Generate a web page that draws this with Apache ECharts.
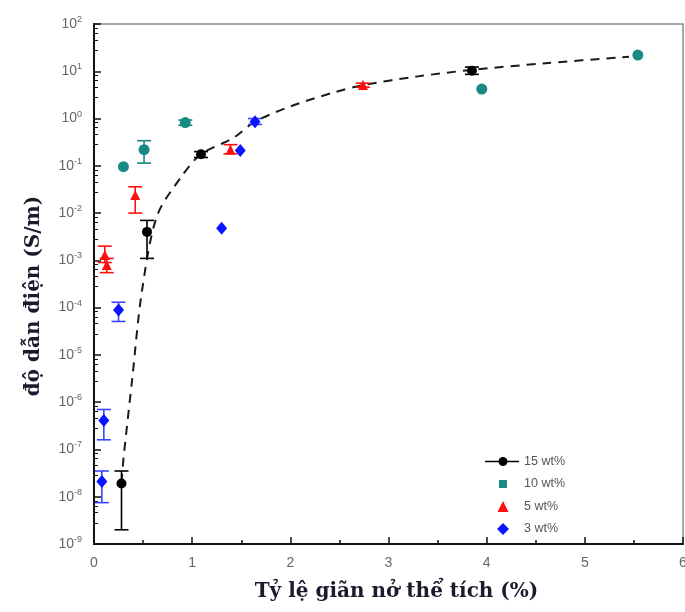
<!DOCTYPE html>
<html>
<head>
<meta charset="utf-8">
<script src="https://cdn.jsdelivr.net/npm/echarts@6/dist/echarts.min.js"></script>
<style>
  html, body { margin: 0; padding: 0; background: #fff; overflow: hidden; }
  #chart { width: 685px; height: 612px; }
</style>
</head>
<body>
<div id="chart"></div>
<script>
// 15 wt% (black circles, error bars)
const blackX = [0.28, 0.54, 1.09, 3.85]
const blackY = [1.9e-8, 4.0e-3, 0.175, 10.3]
const blackLo = [2.0e-9, 1.1e-3, 0.15, 8.6]
const blackHi = [3.5e-8, 7.0e-3, 0.20, 12.3]

// 10 wt% (teal)
const tealX = [0.30, 0.51, 0.93, 3.95, 5.54]
const tealY = [0.096, 0.22, 0.82, 4.2, 22]
const tealLo = [null, 0.114, 0.72, null, null]
const tealHi = [null, 0.34, 0.93, null, null]

// 5 wt% (red triangles)
const redX = [0.11, 0.13, 0.42, 1.39, 2.74]
const redY = [1.3e-3, 8.0e-4, 0.024, 0.22, 5.1]
const redLo = [9.0e-4, 5.5e-4, 0.010, 0.18, 4.6]
const redHi = [2.0e-3, 1.1e-3, 0.036, 0.28, 5.6]

// 3 wt% (blue diamonds)
const blueX = [0.08, 0.10, 0.25, 1.30, 1.49, 1.64]
const blueY = [2.1e-8, 4.1e-7, 8.9e-5, 4.8e-3, 0.21, 0.86]
const blueLo = [7.5e-9, 1.6e-7, 5.1e-5, null, null, 0.75]
const blueHi = [3.5e-8, 7.0e-7, 1.3e-4, null, null, 1.0]

// dashed guide curve
const fitX = [0.28, 0.30, 0.39, 0.485, 0.64, 0.89, 1.09, 1.42, 1.64, 2.0, 2.43, 2.74, 3.3, 3.85, 4.6, 5.45]
const fitY = [2.0e-8, 6.3e-8, 3.2e-6, 2.0e-4, 8.5e-3, 0.059, 0.176, 0.39, 0.86, 1.8, 3.5, 5.1, 7.8, 10.7, 14.8, 20.4]

function pairs(xs, ys) {
  return xs.map((x, i) => [x, ys[i]])
}
function errData(xs, lo, hi) {
  let out = []
  xs.forEach((x, i) => {
    if (lo[i] != null) out.push([x, lo[i], hi[i]])
  })
  return out
}
// error bar drawn through the axis scales
function errorBar(color) {
  return function (params, api) {
    const x = api.value(0)
    const top = api.coord([x, api.value(2)])
    const bot = api.coord([x, api.value(1)])
    const hw = 7
    const st = { stroke: color, lineWidth: 1.6 }
    return {
      type: 'group',
      children: [
        { type: 'line', shape: { x1: top[0], y1: top[1], x2: bot[0], y2: bot[1] }, style: st },
        { type: 'line', shape: { x1: top[0] - hw, y1: top[1], x2: top[0] + hw, y2: top[1] }, style: st },
        { type: 'line', shape: { x1: bot[0] - hw, y1: bot[1], x2: bot[0] + hw, y2: bot[1] }, style: st }
      ]
    }
  }
}
function errSeries(name, color, data) {
  return {
    name: name + ' err',
    type: 'custom',
    renderItem: errorBar(color),
    encode: { x: 0, y: [1, 2] },
    data: data,
    z: 3,
    silent: true
  }
}

const colors = { black: '#000000', teal: '#178a84', red: '#ff1010', blue: '#0a14ff' }

let chart = echarts.init(document.getElementById('chart'), null, { renderer: 'canvas', width: 685, height: 612 })
chart.setOption({
  animation: false,
  backgroundColor: '#fff',
  grid: {
    left: 94, top: 24, right: 2, bottom: 68,
    containLabel: false,
    outerBoundsMode: 'none',
    show: true, borderColor: '#8c8c8c', borderWidth: 1.5
  },
  legend: {
    orient: 'vertical',
    left: 480, top: 450,
    itemWidth: 34, itemHeight: 12,
    itemGap: 9.5,
    textStyle: { fontFamily: 'Liberation Sans', fontSize: 12.5, color: '#555' },
    data: [
      { name: '15 wt%', icon: 'path://M0,0M34,12M0,5.3H34V6.7H0Z M22.5,6A4.5,4.5 0 1 1 13.5,6A4.5,4.5 0 1 1 22.5,6Z' },
      { name: '10 wt%', icon: 'path://M0,0M34,12M14,2H22V10H14Z' },
      { name: '5 wt%', icon: 'path://M0,0M34,12M18,0.5L23.5,11.5H12.5Z' },
      { name: '3 wt%', icon: 'path://M0,0M34,12M18,0L24,6L18,12L12,6Z' }
    ]
  },
  xAxis: {
    type: 'value',
    min: 0, max: 6, interval: 1,
    name: 'Tỷ lệ giãn nở thể tích (%)',
    nameLocation: 'middle',
    nameGap: 38,
    nameTextStyle: { fontFamily: 'DejaVu Serif', fontSize: 20, fontWeight: 'bold', color: '#1b1b2e', padding: [0, 0, 0, 16] },
    axisLine: { show: true, onZero: false, lineStyle: { color: '#111', width: 2 } },
    axisTick: { show: true, inside: true, length: 7, lineStyle: { color: '#111', width: 1.5 } },
    minorTick: { show: true, splitNumber: 2, length: 4, lineStyle: { color: '#111', width: 1.5 } },
    axisLabel: { fontFamily: 'Liberation Sans', fontSize: 14, color: '#666', margin: 12 },
    splitLine: { show: false }
  },
  yAxis: {
    type: 'log',
    logBase: 10,
    min: 1e-9, max: 100,
    interval: 1,
    name: 'độ dẫn điện (S/m)',
    nameLocation: 'middle',
    nameGap: 50,
    nameTextStyle: { fontFamily: 'DejaVu Serif', fontSize: 20, fontWeight: 'bold', color: '#1b1b2e', padding: [0, 24, 0, 0] },
    axisLine: { show: true, lineStyle: { color: '#111', width: 2 } },
    axisTick: { show: true, inside: true, length: 7, lineStyle: { color: '#111', width: 1.5 } },
    minorTick: { show: true, splitNumber: 5, length: 4, lineStyle: { color: '#111', width: 1 } },
    splitLine: { show: false },
    axisLabel: {
      margin: 12,
      color: '#666',
      fontFamily: 'Liberation Sans',
      formatter: function (v) {
        const e = Math.round(Math.log10(v))
        return '{b|10}{s|' + e + '}'
      },
      rich: {
        b: { fontSize: 14, lineHeight: 18, color: '#666', fontFamily: 'Liberation Sans' },
        s: { fontSize: 9, lineHeight: 18, verticalAlign: 'top', padding: [0, 0, 8, 0], color: '#666', fontFamily: 'Liberation Sans' }
      }
    }
  },
  series: [
    {
      name: 'fit',
      type: 'line',
      data: pairs(fitX, fitY),
      showSymbol: false,
      smooth: 0.3,
      lineStyle: { color: '#1a1a1a', width: 2, type: [9, 7] },
      z: 2,
      silent: true
    },
    errSeries('15 wt%', colors.black, errData(blackX, blackLo, blackHi)),
    errSeries('10 wt%', colors.teal, errData(tealX, tealLo, tealHi)),
    errSeries('5 wt%', colors.red, errData(redX, redLo, redHi)),
    errSeries('3 wt%', '#3a44ff', errData(blueX, blueLo, blueHi)),
    {
      name: '15 wt%', type: 'scatter', data: pairs(blackX, blackY),
      symbol: 'circle', symbolSize: 10, itemStyle: { color: colors.black, opacity: 1 }, z: 4
    },
    {
      name: '10 wt%', type: 'scatter', data: pairs(tealX, tealY),
      symbol: 'circle', symbolSize: 11, itemStyle: { color: colors.teal, opacity: 1 }, z: 4
    },
    {
      name: '5 wt%', type: 'scatter', data: pairs(redX, redY),
      symbol: 'triangle', symbolSize: 10, itemStyle: { color: colors.red, opacity: 1 }, z: 4
    },
    {
      name: '3 wt%', type: 'scatter', data: pairs(blueX, blueY),
      symbol: 'diamond', symbolSize: [11, 13], itemStyle: { color: colors.blue, opacity: 1 }, z: 4
    }
  ]
})
</script>
</body>
</html>
